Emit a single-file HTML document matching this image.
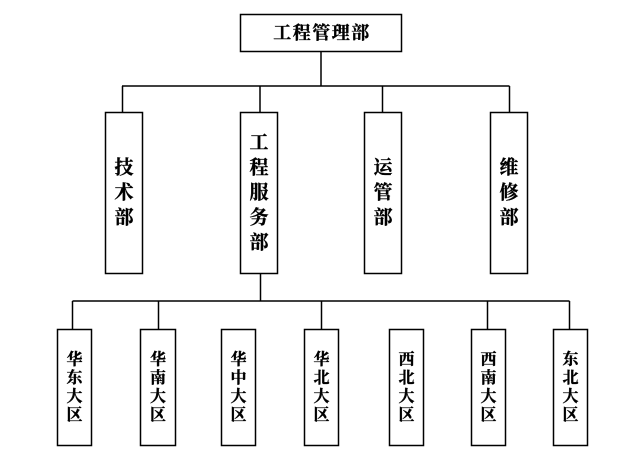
<!DOCTYPE html>
<html><head><meta charset="utf-8"><style>
html,body{margin:0;padding:0;background:#fff;}
svg{display:block;}
text{font-family:"Liberation Serif","Noto Serif CJK SC","Noto Sans CJK SC",serif;font-weight:bold;fill:#000;stroke:#000;stroke-width:0.35;text-anchor:middle;dominant-baseline:central;}
.t{font-size:18px;letter-spacing:1.5px;}
.m{font-size:19px;}
.b{font-size:16px;}
</style></head><body>
<svg width="642" height="454" viewBox="0 0 642 454" xmlns="http://www.w3.org/2000/svg">
<g fill="none" stroke="#000" stroke-width="1.5">
<rect x="240.5" y="14.5" width="161" height="37"/>
<line x1="321" y1="51.5" x2="321" y2="86"/>
<line x1="122" y1="86" x2="509.5" y2="86"/>
<line x1="122.5" y1="86" x2="122.5" y2="112.5"/>
<line x1="260" y1="86" x2="260" y2="112.5"/>
<line x1="382.5" y1="86" x2="382.5" y2="112.5"/>
<line x1="509.5" y1="86" x2="509.5" y2="112.5"/>
<rect x="105.5" y="112.5" width="37" height="161"/>
<rect x="240.5" y="112.5" width="37" height="161"/>
<rect x="364.5" y="112.5" width="37" height="161"/>
<rect x="490.5" y="112.5" width="37" height="161"/>
<line x1="260.5" y1="273.5" x2="260.5" y2="301"/>
<line x1="72.5" y1="301" x2="569.5" y2="301"/>
<line x1="72.5" y1="301" x2="72.5" y2="329.5"/>
<line x1="158.5" y1="301" x2="158.5" y2="329.5"/>
<line x1="321.5" y1="301" x2="321.5" y2="329.5"/>
<line x1="487.5" y1="301" x2="487.5" y2="329.5"/>
<line x1="569.5" y1="301" x2="569.5" y2="329.5"/>
<rect x="57.5" y="329.5" width="34" height="116"/>
<rect x="140.5" y="329.5" width="35" height="116"/>
<rect x="221.5" y="329.5" width="34" height="116"/>
<rect x="304.5" y="329.5" width="34" height="116"/>
<rect x="389.5" y="329.5" width="34" height="116"/>
<rect x="471.5" y="329.5" width="34" height="116"/>
<rect x="553.5" y="329.5" width="34" height="116"/>
</g>
<text class="t" x="322" y="33">工程管理部</text>

<text class="m" x="124" y="168">技</text>
<text class="m" x="124" y="193">术</text>
<text class="m" x="124" y="218">部</text>

<text class="m" x="259" y="143">工</text>
<text class="m" x="259" y="168">程</text>
<text class="m" x="259" y="193">服</text>
<text class="m" x="259" y="218">务</text>
<text class="m" x="259" y="243">部</text>

<text class="m" x="383" y="168">运</text>
<text class="m" x="383" y="193">管</text>
<text class="m" x="383" y="218">部</text>

<text class="m" x="509" y="168">维</text>
<text class="m" x="509" y="193">修</text>
<text class="m" x="509" y="218">部</text>

<g class="b">
<text class="b" x="74.5" y="360">华</text><text class="b" x="74.5" y="378.5">东</text><text class="b" x="74.5" y="397">大</text><text class="b" x="74.5" y="415.5">区</text>
<text class="b" x="158" y="360">华</text><text class="b" x="158" y="378.5">南</text><text class="b" x="158" y="397">大</text><text class="b" x="158" y="415.5">区</text>
<text class="b" x="238.5" y="360">华</text><text class="b" x="238.5" y="378.5">中</text><text class="b" x="238.5" y="397">大</text><text class="b" x="238.5" y="415.5">区</text>
<text class="b" x="321.5" y="360">华</text><text class="b" x="321.5" y="378.5">北</text><text class="b" x="321.5" y="397">大</text><text class="b" x="321.5" y="415.5">区</text>
<text class="b" x="406.5" y="360">西</text><text class="b" x="406.5" y="378.5">北</text><text class="b" x="406.5" y="397">大</text><text class="b" x="406.5" y="415.5">区</text>
<text class="b" x="488.5" y="360">西</text><text class="b" x="488.5" y="378.5">南</text><text class="b" x="488.5" y="397">大</text><text class="b" x="488.5" y="415.5">区</text>
<text class="b" x="570.5" y="360">东</text><text class="b" x="570.5" y="378.5">北</text><text class="b" x="570.5" y="397">大</text><text class="b" x="570.5" y="415.5">区</text>
</g>
</svg>
</body></html>
